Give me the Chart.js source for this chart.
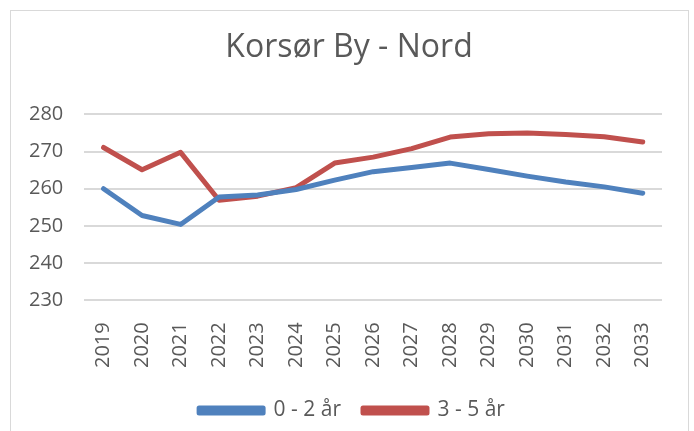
<!DOCTYPE html>
<html>
<head>
<meta charset="utf-8">
<script src="https://cdn.jsdelivr.net/npm/chart.js@4"></script>
<style>
  html, body { margin: 0; padding: 0; background: #fff; }
  #wrap { position: relative; width: 694px; height: 431px; }
  #frame { position: absolute; left: 10px; top: 10px; width: 679px; height: 430px; border: 1px solid #d9d9d9; box-sizing: border-box; }
  canvas { position: absolute; left: 0; top: 0; }
</style>
</head>
<body>
<div id="wrap">
  <div id="frame"></div>
  <canvas id="chart" width="694" height="431"></canvas>
</div>
<script>
const years = ['2019', '2020', '2021', '2022', '2023', '2024', '2025', '2026', '2027', '2028', '2029', '2030', '2031', '2032', '2033'];
const age0to2 = [260, 252.8, 250.4, 257.8, 258.3, 259.8, 262.3, 264.6, 265.7, 266.9, 265.2, 263.4, 261.8, 260.5, 258.8];
const age3to5 = [271.1, 265.1, 269.8, 256.9, 258.0, 260.3, 266.9, 268.5, 270.8, 273.9, 274.8, 275.0, 274.6, 274.0, 272.6];

const textColor = '#595959';
const fontFamily = '"Open Sans", "Liberation Sans", sans-serif';

// title and legend sit centred on the whole frame, not on the plot
const centreBoxes = {
  id: 'centreBoxes',
  afterLayout(chart) {
    const t = chart.titleBlock;
    t.left += 14;
    t.right += 14;
    chart.legend.left += 17;
    chart.legend.right += 17;
  }
};

const ctx = document.getElementById('chart').getContext('2d');
new Chart(ctx, {
  type: 'line',
  data: {
    labels: years,
    datasets: [
      {
        label: '0 - 2 år',
        data: age0to2,
        borderColor: '#4f81bd',
        backgroundColor: '#4f81bd',
        borderWidth: 5,
        borderCapStyle: 'round',
        borderJoinStyle: 'round',
        pointRadius: 0,
        tension: 0
      },
      {
        label: '3 - 5 år',
        data: age3to5,
        borderColor: '#c0504d',
        backgroundColor: '#c0504d',
        borderWidth: 5,
        borderCapStyle: 'round',
        borderJoinStyle: 'round',
        pointRadius: 0,
        tension: 0
      }
    ]
  },
  plugins: [centreBoxes],
  options: {
    responsive: false,
    animation: false,
    layout: {
      padding: { left: 8, right: 32, top: 12, bottom: 0 }
    },
    plugins: {
      title: {
        display: true,
        text: 'Korsør By - Nord',
        color: textColor,
        font: { family: fontFamily, size: 32, weight: 'normal' },
        padding: { top: 17, bottom: 47 }
      },
      legend: {
        position: 'bottom',
        labels: {
          color: textColor,
          font: { family: fontFamily, size: 21 },
          boxWidth: 64,
          boxHeight: 5,
          padding: 22
        }
      },
      tooltip: { enabled: false }
    },
    scales: {
      x: {
        offset: true,
        grid: { display: false },
        border: { display: false },
        afterFit: (scale) => { scale.height -= 4; },
        ticks: {
          color: textColor,
          font: { family: fontFamily, size: 20 },
          minRotation: 90,
          maxRotation: 90,
          padding: 14
        }
      },
      y: {
        min: 230,
        max: 280,
        grid: { color: '#d9d9d9', lineWidth: 2, drawTicks: false },
        border: { display: false },
        ticks: {
          stepSize: 10,
          color: textColor,
          font: { family: fontFamily, size: 20 },
          padding: 21
        }
      }
    }
  }
});
</script>
</body>
</html>
